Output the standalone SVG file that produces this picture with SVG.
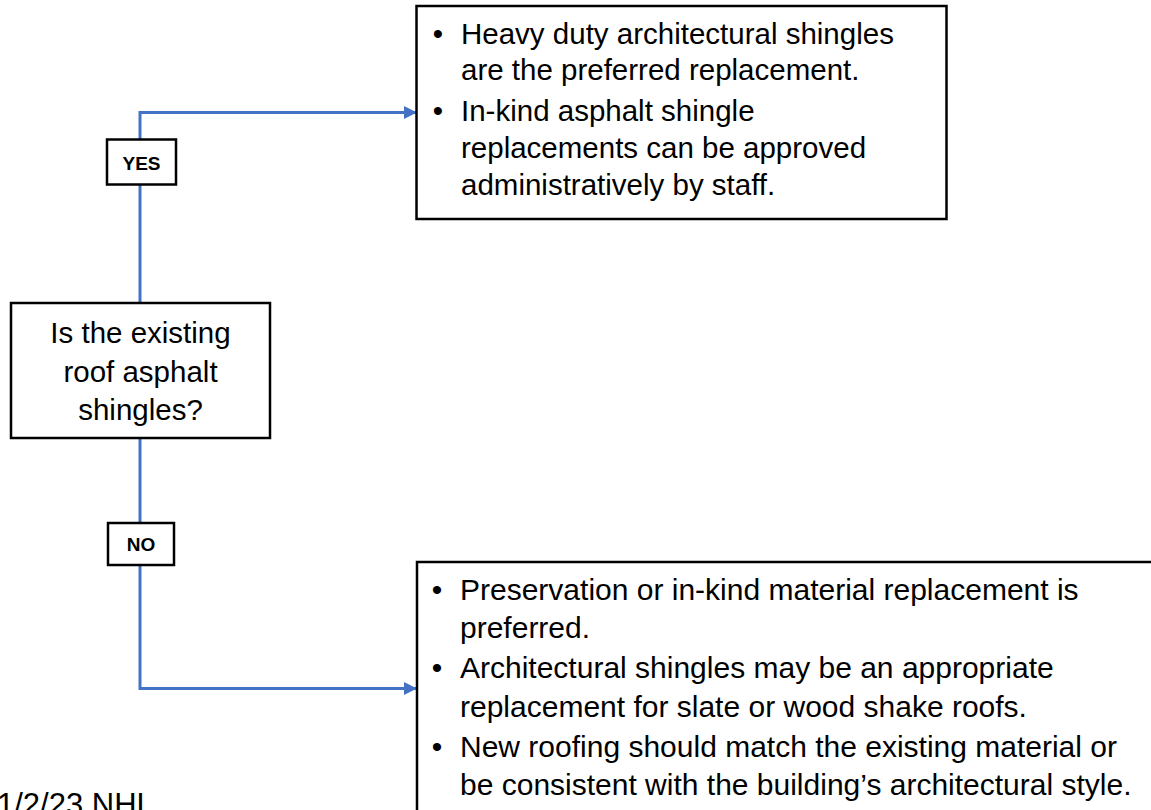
<svg xmlns="http://www.w3.org/2000/svg" width="1151" height="810" viewBox="0 0 1151 810">
<style>
.box{fill:#fff;stroke:#000;stroke-width:2.5}
.lbl{fill:#fff;stroke:#000;stroke-width:2.5}
.conn{fill:none;stroke:#4472C4;stroke-width:3}
.t{font-family:"Liberation Sans",Arial,sans-serif;fill:#000}
.q{font-size:29.5px;text-anchor:middle}
.b1{font-size:29.5px}
.b2{font-size:30px}
.bul{text-anchor:middle}
.yn{font-size:19px;font-weight:bold;text-anchor:middle}
</style>
<defs>
<marker id="arr" viewBox="0 0 13 13" refX="13" refY="6.5" markerWidth="13" markerHeight="13" markerUnits="userSpaceOnUse" orient="auto">
<path d="M0,0 L13,6.5 L0,13 z" fill="#4472C4"/>
</marker>
</defs>
<rect width="1151" height="810" fill="#fff"/>
<g id="connectors">
<path class="conn" d="M140,303 V112.5 H417" marker-end="url(#arr)"/>
<path class="conn" d="M140,438 V688.5 H417" marker-end="url(#arr)"/>
</g>
<g id="question">
<rect class="box" x="11" y="303" width="259" height="135"/>
<text class="t q" x="140.5" y="343">Is the existing</text>
<text class="t q" x="140.5" y="382">roof asphalt</text>
<text class="t q" x="140.5" y="420">shingles?</text>
</g>
<g id="yes-label">
<rect class="lbl" x="107" y="139.5" width="69" height="45"/>
<text class="t yn" x="141.5" y="170">YES</text>
</g>
<g id="no-label">
<rect class="lbl" x="108" y="523" width="66" height="42"/>
<text class="t yn" x="141" y="551">NO</text>
</g>
<g id="yes-result">
<rect class="box" x="416.5" y="6" width="530" height="213"/>
<text class="t b1 bul" x="438" y="44">•</text>
<text class="t b1" x="461" y="44">Heavy duty architectural shingles</text>
<text class="t b1" x="461" y="80">are the preferred replacement.</text>
<text class="t b1 bul" x="438" y="121">•</text>
<text class="t b1" x="461" y="121">In-kind asphalt shingle</text>
<text class="t b1" x="461" y="158">replacements can be approved</text>
<text class="t b1" x="461" y="195">administratively by staff.</text>
</g>
<g id="no-result">
<rect class="box" x="417" y="562" width="760" height="270"/>
<text class="t b2 bul" x="437" y="600">•</text>
<text class="t b2" x="460" y="600">Preservation or in-kind material replacement is</text>
<text class="t b2" x="460" y="638">preferred.</text>
<text class="t b2 bul" x="437" y="678">•</text>
<text class="t b2" x="460" y="678">Architectural shingles may be an appropriate</text>
<text class="t b2" x="460" y="717">replacement for slate or wood shake roofs.</text>
<text class="t b2 bul" x="437" y="757">•</text>
<text class="t b2" x="460" y="757">New roofing should match the existing material or</text>
<text class="t b2" x="460" y="795">be consistent with the building’s architectural style.</text>
</g>
<g id="footer">
<text class="t" x="-3" y="815" font-size="31">1/2/23 NHL</text>
</g>
</svg>
